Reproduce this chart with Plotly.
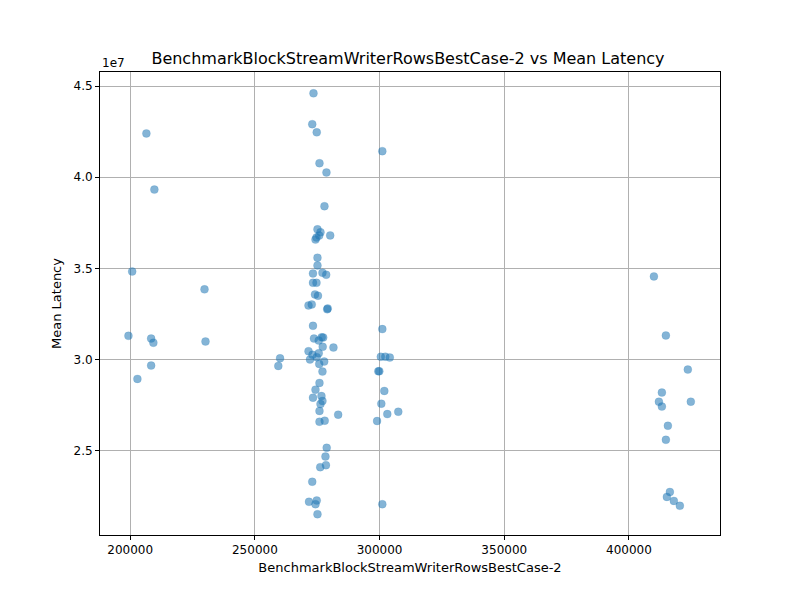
import plotly.graph_objects as go

x_vals = [206500,209700,200800,229800,199300,208400,209300,230200,208400,202900,260100,259400,
273500,273000,274800,301100,275900,278700,277900,275100,276300,275800,280200,274300,274700,
275100,275100,273300,278600,277100,273300,274700,274100,275300,271500,272800,279000,279200,
273300,301100,273700,276800,277400,275600,277200,281500,271500,273100,275600,272100,274800,
275800,277800,277100,300500,302300,304100,299500,299900,275900,301900,274300,273300,276700,
277100,276300,300700,303100,307500,275900,283400,275900,278000,299000,278800,278300,276200,
278500,273000,271700,274800,274300,275100,301100,
410000,414800,423600,413200,412000,413200,424800,415600,414800,416400,415200,418000,420400]
y_vals_e6 = [42.40,39.32,34.83,33.85,31.30,31.15,30.92,30.99,29.67,28.94,30.07,29.65,
44.60,42.91,42.46,41.43,40.77,40.26,38.41,37.14,36.98,36.80,36.81,36.58,36.69,
35.59,35.16,34.72,34.65,34.76,34.21,34.21,33.57,33.50,32.97,33.02,32.76,32.80,
31.85,31.67,31.15,31.22,31.21,31.04,30.70,30.66,30.46,30.26,30.35,30.00,30.13,
29.76,29.89,29.34,30.15,30.16,30.11,29.36,29.36,28.72,28.28,28.35,27.91,28.00,
27.73,27.56,27.58,27.01,27.14,27.18,26.98,26.59,26.65,26.63,25.16,24.68,24.10,
24.21,23.30,22.20,22.27,22.07,21.52,22.07,
34.56,31.32,29.45,28.19,27.69,27.42,27.69,26.37,25.60,22.74,22.47,22.25,21.98]
y_vals = [v * 1e6 for v in y_vals_e6]
x_ticks = [200000, 250000, 300000, 350000, 400000]
y_ticks = [25e6, 30e6, 35e6, 40e6, 45e6]
y_tick_text = ["2.5", "3.0", "3.5", "4.0", "4.5"]

fig = go.Figure(go.Scatter(
    x=x_vals, y=y_vals, mode="markers",
    marker=dict(size=8, color="rgba(31,119,180,0.55)", line=dict(width=0.5, color="rgba(31,119,180,0.3)")),
))
axis_common = dict(showline=True, linecolor="black", linewidth=1, mirror=True, ticks="outside",
                   ticklen=4, tickcolor="black", showgrid=True, gridcolor="#b0b0b0", gridwidth=1,
                   zeroline=False, tickfont=dict(size=12, color="black"), automargin=False)
fig.update_layout(
    width=800, height=600, plot_bgcolor="white", paper_bgcolor="white",
    font=dict(family="DejaVu Sans", color="black"),
    margin=dict(l=92, r=88, t=64, b=73),
    title=dict(text="BenchmarkBlockStreamWriterRowsBestCase-2 vs Mean Latency", x=0.5, xanchor="center",
               y=1 - 50/600, yanchor="middle", font=dict(size=16)),
    xaxis=dict(axis_common, range=[187900, 436500], tickvals=x_ticks, ticktext=[str(t) for t in x_ticks],
               title=dict(text="BenchmarkBlockStreamWriterRowsBestCase-2", font=dict(size=13), standoff=6)),
    yaxis=dict(axis_common, range=[20.38e6, 45.77e6], tickvals=y_ticks, ticktext=y_tick_text,
               title=dict(text="Mean Latency", font=dict(size=13), standoff=8)),
    showlegend=False,
    annotations=[dict(text="1e7", xref="paper", yref="paper", x=0, y=1, xanchor="left", yanchor="bottom",
                      showarrow=False, font=dict(size=12))],
)
fig.write_html("out.html")
